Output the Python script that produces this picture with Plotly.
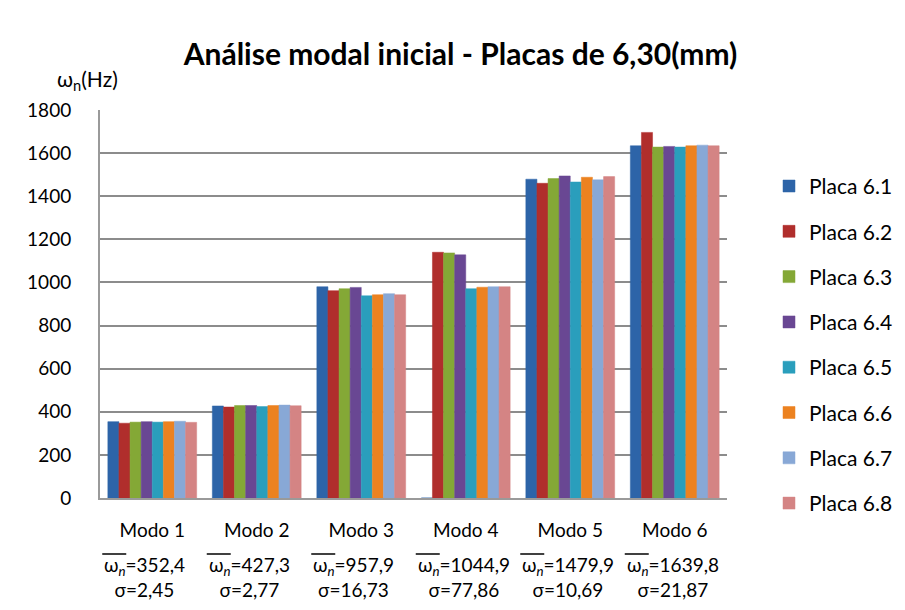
import plotly.graph_objects as go

modos = ["Modo 1", "Modo 2", "Modo 3", "Modo 4", "Modo 5", "Modo 6"]
placas = ["Placa 6.1", "Placa 6.2", "Placa 6.3", "Placa 6.4",
          "Placa 6.5", "Placa 6.6", "Placa 6.7", "Placa 6.8"]

# frequencies (Hz) per plate, one value per mode
placa_6_1 = [354, 427, 980, 0, 1479, 1634]
placa_6_2 = [347, 422, 962, 1140, 1460, 1696]
placa_6_3 = [352, 429, 971, 1137, 1482, 1628]
placa_6_4 = [354, 429, 977, 1128, 1494, 1631]
placa_6_5 = [352, 424, 938, 971, 1466, 1628]
placa_6_6 = [354, 429, 943, 978, 1488, 1634]
placa_6_7 = [356, 431, 948, 980, 1476, 1637]
placa_6_8 = [351, 428, 943, 980, 1491, 1634]

medias = ["352,4", "427,3", "957,9", "1044,9", "1479,9", "1639,8"]
desvios = ["2,45", "2,77", "16,73", "77,86", "10,69", "21,87"]

series = [placa_6_1, placa_6_2, placa_6_3, placa_6_4,
          placa_6_5, placa_6_6, placa_6_7, placa_6_8]
colors = ["#2D64A8", "#B02E2C", "#84A836", "#694793",
          "#2A9EBC", "#EC8220", "#88A8D6", "#D48484"]

FONT = "Lato, 'Open Sans', sans-serif"

fig = go.Figure()

for name, vals, col in zip(placas, series, colors):
    fig.add_trace(go.Bar(
        x=modos, y=vals, name=name, legendgroup=name,
        marker=dict(color=col, line=dict(color=col, width=0.5)),
    ))

# mean / std-dev labels under each mode, with the bar over omega_n
for m, mu, sd in zip(modos, medias, desvios):
    fig.add_annotation(
        x=m, y=0, xref="x", yref="paper", yshift=-79, xshift=-50,
        xanchor="left", yanchor="middle", align="center",
        text=f"ω<sub><i>n</i></sub>={mu}<br>σ={sd}",
        showarrow=False, font=dict(family=FONT, size=19, color="#000"),
    )
    fig.add_shape(
        type="line", xref="x", yref="paper",
        xsizemode="pixel", xanchor=m, x0=-50, x1=-26,
        ysizemode="pixel", yanchor=0, y0=-56, y1=-56,
        line=dict(color="#000", width=1.5),
    )

# y axis title
fig.add_annotation(
    x=-0.020, y=1.077, xref="paper", yref="paper",
    xanchor="center", yanchor="middle",
    text="ω<sub>n</sub>(Hz)", showarrow=False,
    font=dict(family=FONT, size=21, color="#000"),
)

fig.update_layout(
    width=905, height=610,
    paper_bgcolor="white", plot_bgcolor="white",
    margin=dict(l=92, r=186, t=102, b=120),
    barmode="group", bargap=0.15, bargroupgap=0,
    title=dict(
        text="<b>Análise modal inicial - Placas de 6,30(mm)</b>",
        x=0.50, xanchor="center", y=0.923, yanchor="middle",
        font=dict(family=FONT, size=30, color="#000"),
    ),
    font=dict(family=FONT, size=19, color="#000"),
    legend=dict(
        x=1.067, y=0.856, xanchor="left", yanchor="top",
        traceorder="grouped", tracegroupgap=15,
        font=dict(family=FONT, size=21, color="#000"),
        itemwidth=30,
    ),
    xaxis=dict(
        showgrid=False, showline=True, linecolor="#9a9a9a", linewidth=2,
        ticks="", ticklabelstandoff=14, tickfont=dict(family=FONT, size=19),
    ),
    yaxis=dict(
        range=[0, 1800], dtick=200, showgrid=True,
        gridcolor="#8c8c8c", gridwidth=2,
        showline=True, linecolor="#9a9a9a", linewidth=2,
        zeroline=False, ticks="", ticklabelstandoff=23,
        tickfont=dict(family=FONT, size=19),
    ),
)

fig.write_html("out.html")
